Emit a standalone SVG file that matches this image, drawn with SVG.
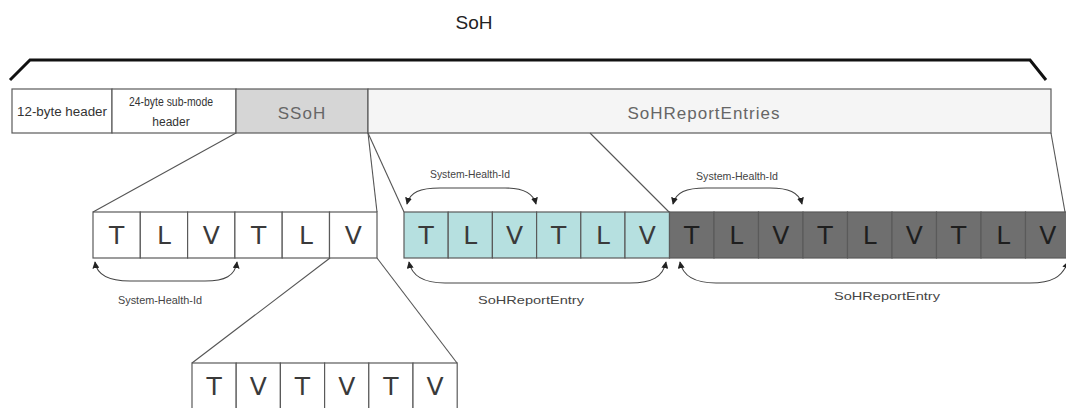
<svg xmlns="http://www.w3.org/2000/svg" width="1066" height="408" viewBox="0 0 1066 408">
  <style>
    .box { stroke: #5a5a5a; stroke-width: 1.2; }
    .hdr { font-family: "Liberation Sans", Arial, sans-serif; fill: #333; }
    .big { font-family: "Liberation Sans", Arial, sans-serif; font-size: 17px; fill: #666; text-anchor: middle; letter-spacing: 1px; }
    .cell { font-family: "DejaVu Sans", "Liberation Sans", sans-serif; font-size: 25px; fill: #3a3a3a; text-anchor: middle; }
    .dark { fill: #1e1e1e; }
    .lbl { font-family: "Liberation Sans", Arial, sans-serif; font-size: 11px; fill: #444; text-anchor: middle; }
    .conn { stroke: #555; stroke-width: 1.1; fill: none; }
    .arc { stroke: #444; stroke-width: 1.1; fill: none; marker-start: url(#tip); marker-end: url(#tip); }
  </style>
  <defs>
    <marker id="tip" viewBox="0 0 10 10" refX="9" refY="5" markerWidth="7" markerHeight="7" markerUnits="userSpaceOnUse" orient="auto-start-reverse">
      <path d="M0,0 L10,5 L0,10 Z" fill="#222"/>
    </marker>
  </defs>

  <rect width="1066" height="408" fill="#ffffff"/>

  <!-- title and overall brace -->
  <g id="soh-title">
    <text x="474" y="29" font-family="Liberation Sans, Arial, sans-serif" font-size="19" fill="#222" text-anchor="middle">SoH</text>
    <path d="M10,80 L30,60 L1030,60 L1046,80" fill="none" stroke="#111" stroke-width="3"/>
  </g>

  <!-- packet header row -->
  <g id="header-12">
    <rect class="box" x="12" y="89" width="100" height="44" fill="#fff"/>
    <text class="hdr" x="62" y="116" font-size="12" text-anchor="middle" textLength="90" lengthAdjust="spacingAndGlyphs">12-byte header</text>
  </g>
  <g id="header-24">
    <rect class="box" x="112" y="89" width="124" height="44" fill="#fff"/>
    <text class="hdr" x="171" y="106" font-size="12" text-anchor="middle" textLength="84" lengthAdjust="spacingAndGlyphs">24-byte sub-mode</text>
    <text class="hdr" x="171" y="126" font-size="12" text-anchor="middle">header</text>
  </g>
  <g id="ssoh">
    <rect class="box" x="236" y="89" width="132" height="44" fill="#d6d6d6"/>
    <text class="big" x="302" y="119">SSoH</text>
  </g>
  <g id="soh-report-entries">
    <rect class="box" x="368" y="89" width="683" height="44" fill="#f5f5f5"/>
    <text class="big" x="704" y="119">SoHReportEntries</text>
  </g>

  <!-- SSoH TLV row -->
  <g id="ssoh-tlv">
    <rect class="box" x="93" y="212" width="47.3" height="46" fill="#fff"/>
    <rect class="box" x="140.3" y="212" width="47.3" height="46" fill="#fff"/>
    <rect class="box" x="187.6" y="212" width="47.3" height="46" fill="#fff"/>
    <rect class="box" x="234.9" y="212" width="47.3" height="46" fill="#fff"/>
    <rect class="box" x="282.2" y="212" width="47.3" height="46" fill="#fff"/>
    <rect class="box" x="329.5" y="212" width="47.5" height="46" fill="#fff"/>
    <text class="cell" x="116.6" y="244">T</text>
    <text class="cell" x="164" y="244">L</text>
    <text class="cell" x="211.3" y="244">V</text>
    <text class="cell" x="258.6" y="244">T</text>
    <text class="cell" x="305.9" y="244">L</text>
    <text class="cell" x="353.2" y="244">V</text>
  </g>

  <!-- first SoHReportEntry (cyan) -->
  <g id="report-entry-1">
    <rect class="box" x="404" y="212" width="44.2" height="46" fill="#b6e0e0"/>
    <rect class="box" x="448.2" y="212" width="44.2" height="46" fill="#b6e0e0"/>
    <rect class="box" x="492.4" y="212" width="44.2" height="46" fill="#b6e0e0"/>
    <rect class="box" x="536.6" y="212" width="44.2" height="46" fill="#b6e0e0"/>
    <rect class="box" x="580.8" y="212" width="44.2" height="46" fill="#b6e0e0"/>
    <rect class="box" x="625" y="212" width="44.5" height="46" fill="#b6e0e0"/>
    <text class="cell" x="426.1" y="244">T</text>
    <text class="cell" x="470.3" y="244">L</text>
    <text class="cell" x="514.5" y="244">V</text>
    <text class="cell" x="558.7" y="244">T</text>
    <text class="cell" x="602.9" y="244">L</text>
    <text class="cell" x="647.2" y="244">V</text>
  </g>

  <!-- second SoHReportEntry (dark) -->
  <g id="report-entry-2">
    <rect class="box" x="669.5" y="212" width="44.5" height="46" fill="#6f6f6f"/>
    <rect class="box" x="714" y="212" width="44.5" height="46" fill="#6f6f6f"/>
    <rect class="box" x="758.5" y="212" width="44.5" height="46" fill="#6f6f6f"/>
    <rect class="box" x="803" y="212" width="44.5" height="46" fill="#6f6f6f"/>
    <rect class="box" x="847.5" y="212" width="44.5" height="46" fill="#6f6f6f"/>
    <rect class="box" x="892" y="212" width="44.5" height="46" fill="#6f6f6f"/>
    <rect class="box" x="936.5" y="212" width="44.5" height="46" fill="#6f6f6f"/>
    <rect class="box" x="981" y="212" width="44.5" height="46" fill="#6f6f6f"/>
    <rect class="box" x="1025.5" y="212" width="44.5" height="46" fill="#6f6f6f"/>
    <text class="cell dark" x="691.7" y="244">T</text>
    <text class="cell dark" x="736.2" y="244">L</text>
    <text class="cell dark" x="780.7" y="244">V</text>
    <text class="cell dark" x="825.2" y="244">T</text>
    <text class="cell dark" x="869.7" y="244">L</text>
    <text class="cell dark" x="914.2" y="244">V</text>
    <text class="cell dark" x="958.7" y="244">T</text>
    <text class="cell dark" x="1003.2" y="244">L</text>
    <text class="cell dark" x="1047.7" y="244">V</text>
  </g>

  <!-- expanded value: TV row -->
  <g id="tv-row">
    <rect class="box" x="192" y="363" width="44.2" height="50" fill="#fff"/>
    <rect class="box" x="236.2" y="363" width="44.2" height="50" fill="#fff"/>
    <rect class="box" x="280.4" y="363" width="44.2" height="50" fill="#fff"/>
    <rect class="box" x="324.6" y="363" width="44.2" height="50" fill="#fff"/>
    <rect class="box" x="368.8" y="363" width="44.2" height="50" fill="#fff"/>
    <rect class="box" x="413" y="363" width="44.2" height="50" fill="#fff"/>
    <text class="cell" x="214.1" y="395">T</text>
    <text class="cell" x="258.3" y="395">V</text>
    <text class="cell" x="302.5" y="395">T</text>
    <text class="cell" x="346.7" y="395">V</text>
    <text class="cell" x="390.9" y="395">T</text>
    <text class="cell" x="435.1" y="395">V</text>
  </g>

  <!-- connectors: zoom lines and span arcs -->
  <g id="connectors">
    <line class="conn" x1="236" y1="133" x2="93" y2="212"/>
    <line class="conn" x1="368" y1="133" x2="377" y2="212"/>
    <line class="conn" x1="368" y1="133" x2="404" y2="212"/>
    <line class="conn" x1="590" y1="133" x2="669" y2="212"/>
    <line class="conn" x1="1051" y1="133" x2="1065" y2="212"/>
    <line class="conn" x1="330" y1="258" x2="192" y2="363"/>
    <line class="conn" x1="377" y1="258" x2="457" y2="363"/>

    <path class="arc" d="M95,262 C97,276 110,281 130,281 L205,281 C225,281 235,276 237,262"/>
    <path class="arc" d="M407,204 C410,192 420,188 440,188 L505,188 C522,188 533,192 536,204"/>
    <path class="arc" d="M409,262 C412,277 425,283 445,283 L630,283 C652,283 663,277 666,262"/>
    <path class="arc" d="M673,204 C676,192 686,188 706,188 L770,188 C788,188 799,192 802,204"/>
    <path class="arc" d="M680,262 C683,277 696,283 716,283 L1030,283 C1052,283 1062,277 1068,262"/>
  </g>

  <!-- span labels -->
  <g id="labels">
    <text class="lbl" x="160" y="304" textLength="84" lengthAdjust="spacingAndGlyphs">System-Health-Id</text>
    <text class="lbl" x="470" y="178" textLength="80" lengthAdjust="spacingAndGlyphs">System-Health-Id</text>
    <text class="lbl" x="737" y="180" textLength="82" lengthAdjust="spacingAndGlyphs">System-Health-Id</text>
    <text class="lbl" x="531" y="304" font-size="13" textLength="106" lengthAdjust="spacingAndGlyphs">SoHReportEntry</text>
    <text class="lbl" x="887" y="300" font-size="13" textLength="106" lengthAdjust="spacingAndGlyphs">SoHReportEntry</text>
  </g>
</svg>
